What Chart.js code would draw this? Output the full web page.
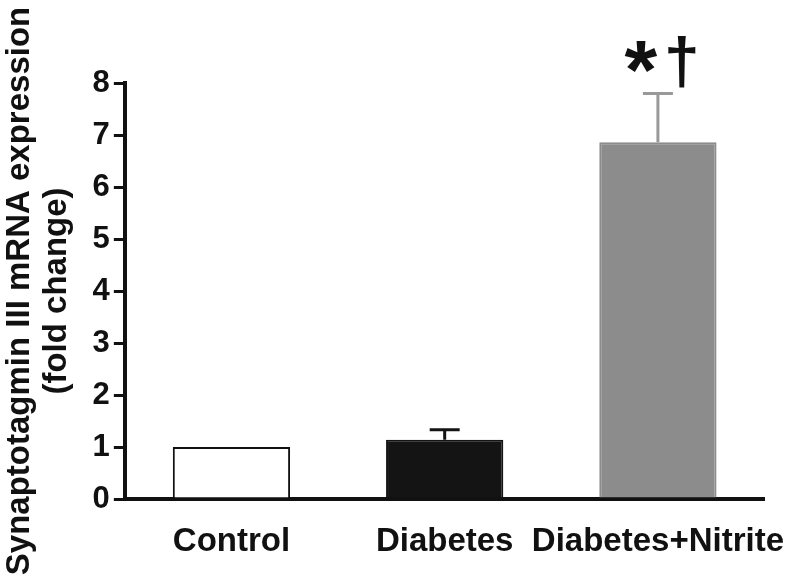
<!DOCTYPE html>
<html>
<head>
<meta charset="utf-8">
<script src="https://cdn.jsdelivr.net/npm/chart.js@4/dist/chart.umd.min.js"></script>
<style>
  html, body { margin: 0; background: #fff; }
  #wrap { width: 787px; height: 578px; }
</style>
</head>
<body>
<div id="wrap"><canvas id="myChart"></canvas></div>
<script>
// data
const groups = ["Control", "Diabetes", "Diabetes+Nitrite"];
const foldChange = [1.0, 1.14, 6.86];
const errorUp = [0, 0.19, 0.94];
const signif = ["", "", "*†"];
const yTicks = [0, 1, 2, 3, 4, 5, 6, 7, 8];

const barColors = ["#ffffff", "#141414", "#8c8c8c"];
const barBorders = ["#111111", "#141414", "#8c8c8c"];
const errColors = ["#111111", "#141414", "#999999"];
const FONT = "'Liberation Sans', Arial, sans-serif";

const errorBars = {
  id: "errorBars",
  afterDatasetsDraw(chart) {
    const ctx = chart.ctx;
    const meta = chart.getDatasetMeta(0);
    const y = chart.scales.y;
    meta.data.forEach((bar, i) => {
      if (!errorUp[i]) return;
      const top = y.getPixelForValue(foldChange[i] + errorUp[i]);
      ctx.save();
      ctx.strokeStyle = errColors[i];
      ctx.lineWidth = 3;
      ctx.beginPath();
      ctx.moveTo(bar.x, bar.y);
      ctx.lineTo(bar.x, top);
      ctx.moveTo(bar.x - 15, top);
      ctx.lineTo(bar.x + 15, top);
      ctx.stroke();

      // significance marks
      if (signif[i]) {
        const chars = Array.from(signif[i]);
        ctx.fillStyle = "#111";
        ctx.textBaseline = "alphabetic";
        ctx.textAlign = "center";
        ctx.font = "bold 84px " + FONT;
        ctx.fillText(chars[0], bar.x - 17, top + 6);
        ctx.font = "bold 64px " + FONT;
        ctx.fillText(chars[1], bar.x + 24, top - 10);
      }
      ctx.restore();
    });
  }
};

const ctx = document.getElementById("myChart");
const data = {
  labels: groups,
  datasets: [
    {
      data: foldChange,
      backgroundColor: barColors,
      borderColor: barBorders,
      borderWidth: 2,
      barPercentage: 0.55,
      categoryPercentage: 1.0,
    },
  ],
};

const config = {
  type: "bar",
  data: data,
  options: {
    responsive: true,
    maintainAspectRatio: false,
    animation: false,
    layout: { padding: { top: 83, right: 0, bottom: 17, left: 2 } },
    plugins: {
      legend: { display: false },
      tooltip: { enabled: false },
    },
    scales: {
      x: {
        ticks: {
          color: "#111",
          font: { family: FONT, size: 33, weight: "bold", lineHeight: 1.0 },
          padding: 3,
          maxRotation: 0,
          autoSkip: false,
        },
        grid: { display: false, drawTicks: true, tickLength: 23 },
        border: { color: "#111", width: 4 },
      },
      y: {
        min: 0,
        max: 8,
        afterBuildTicks: (axis) => {
          axis.ticks = yTicks.map((v) => ({ value: v }));
        },
        ticks: {
          color: "#111",
          font: { family: FONT, size: 31, weight: "bold" },
          padding: 4,
        },
        grid: { drawOnChartArea: false, color: "#111", lineWidth: 3, tickLength: 11 },
        border: { color: "#111", width: 4 },
        title: {
          display: true,
          text: ["Synaptotagmin III mRNA expression", "(fold change)"],
          color: "#111",
          font: { family: FONT, size: 33, weight: "bold", lineHeight: 1.1 },
          padding: { top: 0, bottom: 14 },
        },
      },
    },
  },
  plugins: [errorBars],
};

const myChart = new Chart(ctx, config);
</script>
</body>
</html>
